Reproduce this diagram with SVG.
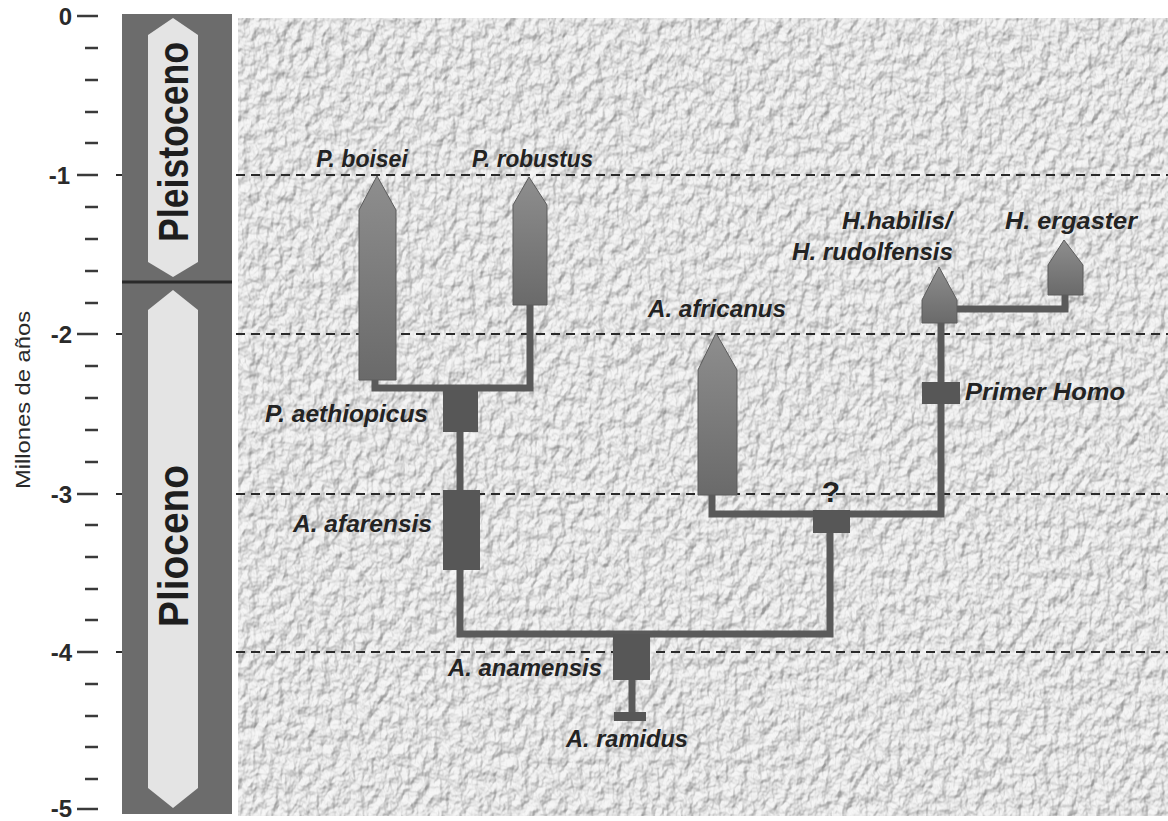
<svg xmlns="http://www.w3.org/2000/svg" width="1168" height="821" viewBox="0 0 1168 821">
<style>
.lbl{font-family:"Liberation Sans",Arial,sans-serif;font-weight:bold;font-style:italic;font-size:23px;fill:#232323}
.tick{stroke:#3a3a3a;stroke-width:2.5}
.num{font-family:"Liberation Sans",Arial,sans-serif;font-weight:bold;font-size:24px;fill:#2a2a2a;text-anchor:end}
.era{font-family:"Liberation Sans",Arial,sans-serif;font-weight:bold;font-size:42px;fill:#1e1e1e;text-anchor:middle}
.grid{stroke:#2a2a2a;stroke-width:2.2;stroke-dasharray:9 6;fill:none}
.conn{stroke:#5a5a5a;stroke-width:7;fill:none;stroke-linejoin:miter;stroke-linecap:square}
.spindle{fill:url(#sg);stroke:#5c5c5c;stroke-width:1}
.box{fill:#575757}
</style>
<defs>
<linearGradient id="sg" x1="0" y1="0" x2="0" y2="1">
<stop offset="0" stop-color="#8e8e8e"/>
<stop offset="1" stop-color="#6a6a6a"/>
</linearGradient>
<filter id="paper" x="0" y="0" width="1" height="1">
<feTurbulence type="fractalNoise" baseFrequency="0.11 0.08" numOctaves="3" seed="7" result="noise"/>
<feDiffuseLighting in="noise" surfaceScale="5" diffuseConstant="1" lighting-color="#ffffff" result="lit">
<feDistantLight azimuth="235" elevation="50"/>
</feDiffuseLighting>
<feColorMatrix in="lit" type="matrix" values="0.6 0 0 0 0.32  0.6 0 0 0 0.32  0.6 0 0 0 0.32  0 0 0 0 1"/>
</filter>
</defs>

<rect x="0" y="0" width="1168" height="821" fill="#ffffff"/>

<g id="panel">
<rect x="238" y="18" width="930" height="798" fill="#c4c4c4" filter="url(#paper)"/>
</g>

<g id="gridlines">
<line class="grid" x1="116" y1="175" x2="1168" y2="175"/>
<line class="grid" x1="116" y1="334" x2="1168" y2="334"/>
<line class="grid" x1="116" y1="494" x2="1168" y2="494"/>
<line class="grid" x1="116" y1="652" x2="1168" y2="652"/>
</g>

<g id="axis">
<g class="ticks">
<line class="tick" x1="77" y1="16" x2="98" y2="16"/>
<line class="tick" x1="85" y1="48" x2="98" y2="48"/>
<line class="tick" x1="85" y1="80" x2="98" y2="80"/>
<line class="tick" x1="85" y1="112" x2="98" y2="112"/>
<line class="tick" x1="85" y1="143" x2="98" y2="143"/>
<line class="tick" x1="77" y1="175" x2="98" y2="175"/>
<line class="tick" x1="85" y1="207" x2="98" y2="207"/>
<line class="tick" x1="85" y1="239" x2="98" y2="239"/>
<line class="tick" x1="85" y1="271" x2="98" y2="271"/>
<line class="tick" x1="85" y1="303" x2="98" y2="303"/>
<line class="tick" x1="77" y1="334" x2="98" y2="334"/>
<line class="tick" x1="85" y1="366" x2="98" y2="366"/>
<line class="tick" x1="85" y1="398" x2="98" y2="398"/>
<line class="tick" x1="85" y1="430" x2="98" y2="430"/>
<line class="tick" x1="85" y1="462" x2="98" y2="462"/>
<line class="tick" x1="77" y1="494" x2="98" y2="494"/>
<line class="tick" x1="85" y1="525" x2="98" y2="525"/>
<line class="tick" x1="85" y1="557" x2="98" y2="557"/>
<line class="tick" x1="85" y1="589" x2="98" y2="589"/>
<line class="tick" x1="85" y1="620" x2="98" y2="620"/>
<line class="tick" x1="77" y1="652" x2="98" y2="652"/>
<line class="tick" x1="85" y1="684" x2="98" y2="684"/>
<line class="tick" x1="85" y1="716" x2="98" y2="716"/>
<line class="tick" x1="85" y1="747" x2="98" y2="747"/>
<line class="tick" x1="85" y1="779" x2="98" y2="779"/>
<line class="tick" x1="77" y1="809" x2="98" y2="809"/>
</g>
<text class="num" x="72" y="25">0</text>
<text class="num" x="70" y="184">-1</text>
<text class="num" x="72" y="343">-2</text>
<text class="num" x="72" y="503">-3</text>
<text class="num" x="72" y="661">-4</text>
<text class="num" x="72" y="817">-5</text>
<text transform="translate(30,400) rotate(-90)" text-anchor="middle" font-family="Liberation Sans, Arial, sans-serif" font-size="20" fill="#2a2a2a" textLength="178" lengthAdjust="spacingAndGlyphs">Millones de años</text>
</g>

<g id="epochs">
<rect x="122" y="14" width="110" height="800" fill="#6c6c6c"/>
<polygon points="148,35 173,18 198,35 198,262 173,277 148,262" fill="#e4e4e4"/>
<line x1="122" y1="282" x2="232" y2="282" stroke="#2a2a2a" stroke-width="3"/>
<polygon points="148,310 173,290 198,310 198,788 173,808 148,788" fill="#e4e4e4"/>
<text class="era" transform="translate(188,142) rotate(-90)" textLength="200" lengthAdjust="spacingAndGlyphs">Pleistoceno</text>
<text class="era" transform="translate(188,546) rotate(-90)" textLength="162" lengthAdjust="spacingAndGlyphs">Plioceno</text>
</g>

<g id="connectors">
<path class="conn" d="M375,380 V388 H530 V305"/>
<path class="conn" d="M460,432 V490"/>
<path class="conn" d="M460,570 V634 H830 V532"/>
<path class="conn" d="M632,680 V714"/>
<path class="conn" d="M712,495 V514 H941 V322"/>
<path class="conn" d="M957,309 H1065 V295"/>
</g>

<g id="p-boisei">
<polygon class="spindle" points="359,210 377,176 396,210 396,380 359,380"/>
<text class="lbl" x="362" y="167" text-anchor="middle">P. boisei</text>
</g>
<g id="p-robustus">
<polygon class="spindle" points="513,205 529,177 547,205 547,305 513,305"/>
<text class="lbl" x="472" y="167" textLength="121" lengthAdjust="spacingAndGlyphs">P. robustus</text>
</g>
<g id="p-aethiopicus">
<rect class="box" x="443" y="390" width="35" height="42"/>
<text class="lbl" x="265" y="422" textLength="163" lengthAdjust="spacingAndGlyphs">P. aethiopicus</text>
</g>
<g id="a-afarensis">
<rect class="box" x="443" y="490" width="37" height="80"/>
<text class="lbl" x="293" y="532" textLength="139" lengthAdjust="spacingAndGlyphs">A. afarensis</text>
</g>
<g id="a-anamensis">
<rect class="box" x="613" y="634" width="37" height="46"/>
<text class="lbl" x="448" y="676" textLength="154" lengthAdjust="spacingAndGlyphs">A. anamensis</text>
</g>
<g id="a-ramidus">
<rect class="box" x="614" y="712" width="32" height="9"/>
<text class="lbl" x="566" y="747" textLength="122" lengthAdjust="spacingAndGlyphs">A. ramidus</text>
</g>
<g id="a-africanus">
<polygon class="spindle" points="698,370 716,333 737,370 737,495 698,495"/>
<text class="lbl" x="648" y="317" textLength="138" lengthAdjust="spacingAndGlyphs">A. africanus</text>
</g>
<g id="unknown">
<rect class="box" x="813" y="510" width="37" height="23"/>
<text x="831" y="502" text-anchor="middle" font-family="Liberation Sans, Arial, sans-serif" font-weight="bold" font-size="30" fill="#232323">?</text>
</g>
<g id="primer-homo">
<rect class="box" x="922" y="382" width="38" height="22"/>
<text class="lbl" x="965" y="400" textLength="160" lengthAdjust="spacingAndGlyphs">Primer Homo</text>
</g>
<g id="h-habilis">
<polygon class="spindle" points="922,300 939,267 957,300 957,323 922,323"/>
<text class="lbl" x="952" y="229" text-anchor="end" textLength="110" lengthAdjust="spacingAndGlyphs">H.habilis/</text>
<text class="lbl" x="953" y="260" text-anchor="end" textLength="161" lengthAdjust="spacingAndGlyphs">H. rudolfensis</text>
</g>
<g id="h-ergaster">
<polygon class="spindle" points="1048,265 1064,240 1083,265 1083,295 1048,295"/>
<text class="lbl" x="1005" y="229" textLength="132" lengthAdjust="spacingAndGlyphs">H. ergaster</text>
</g>
</svg>
